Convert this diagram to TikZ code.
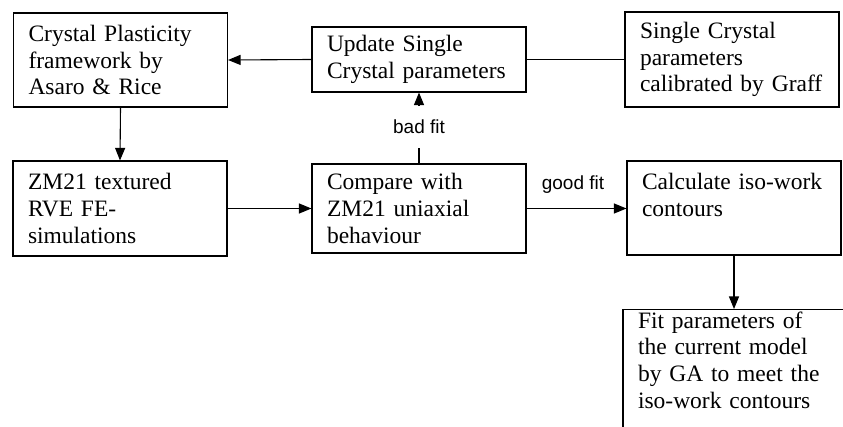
\documentclass[tikz,border=0pt]{standalone}
\usepackage{fontspec}
\setmainfont{Liberation Serif}
\setsansfont{Liberation Sans}
\usepackage{tikz}
\usetikzlibrary{arrows.meta,positioning}

\begin{document}
\begin{tikzpicture}[x=1pt,y=-1pt,line width=1.1pt,
    stage/.style={draw,rectangle,align=left,text width=184pt,inner xsep=15pt,inner ysep=0pt,
      font=\fontsize{23.5pt}{26.7pt}\selectfont},
    fitlabel/.style={font=\sffamily\fontsize{19pt}{22pt}\selectfont},
    flow/.style={-{Triangle[length=12.5pt,width=10pt]}}]
  \useasboundingbox (0,0) rectangle (843,427);
  \node[stage,minimum height=94pt] (cpf) at (120.5,60) {Crystal Plasticity\\framework by\\Asaro \& Rice};
  \node[stage,minimum height=65pt] (upd) at (419,59.5) {Update Single\\Crystal parameters};
  \node[stage,minimum height=95pt] (graff) at (732,59.5) {Single Crystal\\parameters\\calibrated by Graff};
  \node[stage,minimum height=95pt] (rve) at (120,208.5) {ZM21 textured\\RVE FE-\\simulations};
  \node[stage,minimum height=89pt] (cmp) at (419,208.5) {Compare with\\ZM21 uniaxial\\behaviour};
  \node[stage,minimum height=94pt] (iso) at (734,208) {Calculate iso-work\\contours\\~};
  \node[stage,anchor=north,text width=192pt,inner ysep=2pt] (ga) at (734,309) {Fit parameters of\\the current model\\by GA to meet the\\iso-work contours\\~};
  \node[fitlabel,inner ysep=13.5pt] (bad) at (419,126.5) {bad fit};
  \node[fitlabel] (good) at (573,185) {good fit};

  \draw (graff.west) -- (upd.east);
  \draw[flow] (upd.west) -- (cpf.east);
  \draw[flow] (cpf.south) -- (rve.north);
  \draw[flow] (rve.east) -- (rve.east -| cmp.west);
  \draw (cmp.north) -- (bad.south);
  \draw[flow] (bad.north) -- (upd.south);
  \draw[flow] (cmp.east) -- (cmp.east -| iso.west);
  \draw[flow] (iso.south) -- (ga.north);
\end{tikzpicture}
\end{document}
